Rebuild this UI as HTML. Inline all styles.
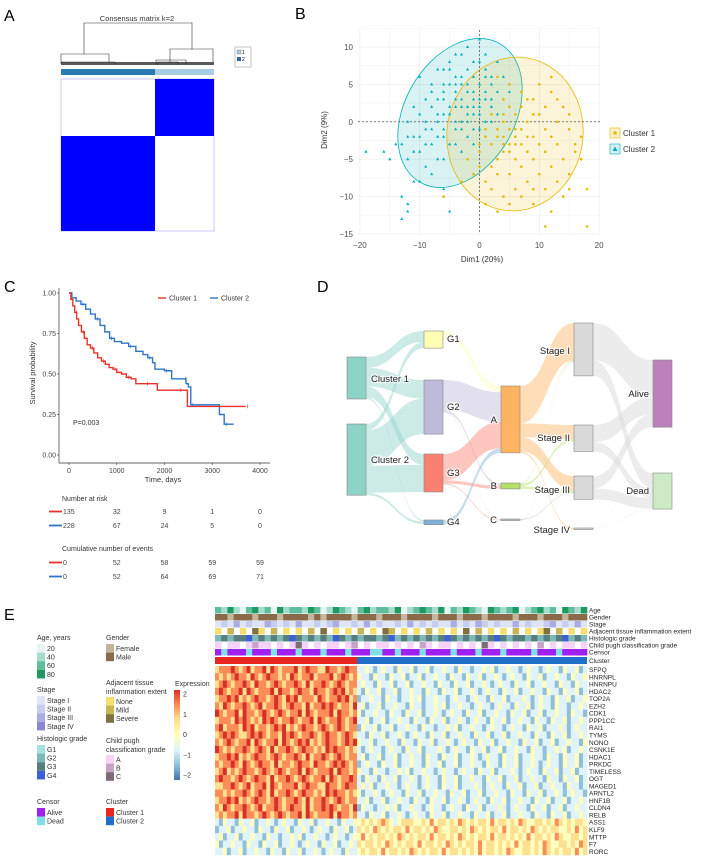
<!DOCTYPE html>
<html><head><meta charset="utf-8"><style>
html,body{margin:0;padding:0;background:#fff;}
svg{display:block;font-family:"Liberation Sans",sans-serif;}
.lbl{font-size:16px;}
</style></head><body>
<svg id="fig" width="713" height="858" viewBox="0 0 713 858" xmlns="http://www.w3.org/2000/svg">
<!-- Panel A -->
<g>
<text x="4" y="21" class="lbl">A</text>
<text x="137" y="21" font-size="7.5" text-anchor="middle" fill="#333">Consensus matrix k=2</text>
<g stroke="#333" stroke-width="0.6" fill="none">
<path d="M84,54 V23 H192 V49"/>
<path d="M61,62 V54 H109 V62"/>
<path d="M170,62 V49 H213 V62"/>
<path d="M61,64 V62 H115 V64 M156,64 V60 H186 V64 M158,65 V62 H178 V65"/>
</g>
<rect x="61" y="62" width="153" height="3" fill="#222" opacity="0.75"/>
<rect x="61" y="69" width="94" height="6" fill="#2b7bb3"/>
<rect x="155" y="69" width="59" height="6" fill="#a6cde2"/>
<rect x="61" y="79" width="153" height="152" fill="#fff" stroke="#c8c8ff" stroke-width="1"/>
<rect x="155" y="79" width="59" height="57" fill="#0000ff"/>
<rect x="61" y="136" width="94" height="95" fill="#0000ff"/>
<g>
<rect x="235" y="47" width="16" height="20" fill="#fff" stroke="#888" stroke-width="0.5"/>
<rect x="237" y="50" width="4" height="4" fill="#a6cde2" stroke="#555" stroke-width="0.3"/>
<text x="242" y="54" font-size="5">1</text>
<rect x="237" y="57" width="4" height="4" fill="#2b6aa0"/>
<text x="242" y="61" font-size="5">2</text>
</g>
</g>
<!-- Panel B -->
<g id="pb">
<text x="295" y="19" class="lbl">B</text>
</g>
<!-- Panel C -->
<g id="pc">
<text x="4" y="292" class="lbl">C</text>
</g>
<!-- Panel D -->
<g id="pd">
<text x="317" y="292" class="lbl">D</text>
</g>
<!-- Panel E -->
<g id="pe">
<text x="4" y="620" class="lbl">E</text>
</g>
</svg>
<script>
const NS="http://www.w3.org/2000/svg";
function mk(p,tag,attrs,txt){const e=document.createElementNS(NS,tag);for(const k in attrs)e.setAttribute(k,attrs[k]);if(txt!==undefined)e.textContent=txt;p.appendChild(e);return e;}

// ===== Panel B data =====
const bXTicks=[-20,-10,0,10,20];
const bYTicks=[10,5,0,-5,-10,-15];
const cluster2Pts=[[-10,6],[-7,7],[-5,8],[-3,9],[-2,10],[0,8],[1,7],[3,8],[-1,6],[-4,6],[-6,5],[-8,4],[-9,3],[-11,2],[-12,0],[-10,1],[-8,2],[-6,3],[-4,4],[-2,5],[0,5],[2,5],[3,4],[1,3],[-1,3],[-3,2],[-5,1],[-7,0],[-9,-1],[-11,-2],[-13,-3],[-12,-5],[-10,-4],[-8,-3],[-6,-2],[-4,-1],[-2,0],[0,1],[2,2],[4,6],[5,4],[-1,1],[-3,-1],[-5,-3],[-7,-5],[-9,-6],[-11,-8],[-10,-8],[-8,-7],[-6,-5],[-4,-3],[-2,-2],[0,-1],[1,0],[-2,2],[-4,2],[-6,1],[-8,-1],[-10,-2],[-7,3],[-5,5],[-3,6],[-1,8],[1,9],[2,6],[-2,4],[-4,0],[-6,-1],[-9,0],[-12,-2],[-14,-3],[-15,-5],[-19,-4],[-16,-4],[-12,-11],[-13,-10],[-12,-12],[-13,-13],[-6,-9],[-5,-12],[-3,-4],[-1,-3],[-3,3],[-5,2],[0,3],[2,0],[3,1],[-7,-2],[-9,-3],[-11,-4],[-8,5],[-6,7],[-4,9],[0,11],[-1,4],[1,4],[-2,7],[-4,3],[-3,0],[-1,-1],[-5,7],[-3,5],[-1,2],[1,6],[-6,4],[-2,1],[0,2],[-4,5],[2,3],[-7,1]];
const cluster1Pts=[[5,5],[7,4],[9,3],[12,4],[14,2],[10,1],[8,0],[6,-1],[4,-2],[2,-3],[0,-4],[-2,-5],[0,-6],[3,-5],[5,-4],[7,-3],[9,-2],[11,-1],[13,0],[15,-1],[16,-3],[14,-5],[12,-6],[10,-7],[8,-8],[6,-9],[4,-10],[2,-9],[1,-11],[5,-7],[7,-6],[9,-5],[11,-4],[13,-3],[15,-7],[17,-5],[18,-9],[14,-10],[12,-12],[16,-4],[6,-2],[4,0],[2,1],[5,2],[7,2],[9,1],[11,2],[13,3],[15,1],[8,-4],[6,-5],[3,-7],[1,-8],[-1,-7],[-3,-8],[2,-6],[4,-4],[6,-3],[5,-1],[3,-2],[1,-2],[7,-1],[10,-3],[12,-2],[11,-9],[9,-9],[7,-10],[5,-11],[3,-12],[11,-14],[18,-14],[-6,-10],[8,3],[6,1],[4,3],[10,5],[12,6],[3,6],[1,-1],[0,-3],[9,-11],[13,-8],[15,-9],[17,-2],[4,-3],[6,-2],[5,-3],[3,-1],[8,-2],[4,1]];
(function(){
 const g=document.getElementById('pb');
 const bx=v=>479.5+v*5.98, by=v=>121.8-v*7.48;
 mk(g,'rect',{x:358,y:30,width:242,height:203,fill:'#fff'});
 for(let v=-20;v<=20;v+=5){const l=mk(g,'line',{x1:bx(v),x2:bx(v),y1:30,y2:233,stroke:'#ebebeb','stroke-width':v%10===0?0.7:0.4});}
 for(let v=-15;v<=12.5;v+=2.5){const l=mk(g,'line',{x1:358,x2:600,y1:by(v),y2:by(v),stroke:'#ebebeb','stroke-width':v%5===0?0.7:0.4});}
 bXTicks.forEach(v=>{const t=mk(g,'text',{x:bx(v),y:248,'font-size':8,'text-anchor':'middle',fill:'#4d4d4d'},String(v).replace('-','\u2212'));});
 bYTicks.forEach(v=>{const t=mk(g,'text',{x:353,y:by(v)+3,'font-size':8,'text-anchor':'end',fill:'#4d4d4d'},String(v).replace('-','\u2212'));});
 let t=mk(g,'text',{x:482,y:262,'font-size':8,'text-anchor':'middle',fill:'#333'},'Dim1 (20%)');
 t=mk(g,'text',{x:0,y:0,'font-size':8,'text-anchor':'middle',fill:'#333',transform:'translate(327,130) rotate(-90)'},'Dim2 (9%)');
 let e=mk(g,'ellipse',{cx:460,cy:113,rx:55,ry:80,transform:'rotate(30 460 113)',fill:'#00AFBB','fill-opacity':0.15,stroke:'#00AFBB','stroke-width':0.8});
 e=mk(g,'ellipse',{cx:515,cy:134,rx:68,ry:77,transform:'rotate(8 515 134)',fill:'#E7B800','fill-opacity':0.15,stroke:'#E7B800','stroke-width':0.8});
 mk(g,'line',{x1:bx(0),x2:bx(0),y1:30,y2:233,stroke:'#333','stroke-dasharray':'2,2','stroke-width':0.6});
 mk(g,'line',{x1:358,x2:600,y1:by(0),y2:by(0),stroke:'#333','stroke-dasharray':'2,2','stroke-width':0.6});
 cluster1Pts.forEach(p=>{const c=mk(g,'circle',{cx:bx(p[0]),cy:by(p[1]),r:1.3,fill:'#E7B800'});});
 cluster2Pts.forEach(p=>{const x=bx(p[0]),y=by(p[1]);const c=mk(g,'path',{d:`M${x},${y-1.8}L${x+1.6},${y+1}L${x-1.6},${y+1}Z`,fill:'#00AFBB'});});
 // legend
 let r=mk(g,'rect',{x:610,y:128,width:10,height:10,fill:'#fbf1cc',stroke:'#E7B800','stroke-width':0.6});
 mk(g,'circle',{cx:615,cy:133,r:1.8,fill:'#E7B800'});
 t=mk(g,'text',{x:623,y:136,'font-size':8,fill:'#333'},'Cluster 1');
 r=mk(g,'rect',{x:610,y:144,width:10,height:10,fill:'#d5f1f3',stroke:'#00AFBB','stroke-width':0.6});
 mk(g,'path',{d:'M615,146.5L617.5,151L612.5,151Z',fill:'#00AFBB'});
 t=mk(g,'text',{x:623,y:152,'font-size':8,fill:'#333'},'Cluster 2');
})();

// ===== Panel C data =====
const kmYTicks=[0,0.25,0.5,0.75,1.0];
const kmXTicks=[0,1000,2000,3000,4000];
const km1Time=[0,40,80,120,160,200,260,320,380,450,520,600,680,760,840,920,1000,1100,1200,1300,1400,1600,1800,1850,2300,2450,2480,3700];
const km1Surv=[1.0,0.96,0.92,0.88,0.84,0.8,0.76,0.72,0.68,0.66,0.63,0.6,0.58,0.56,0.54,0.53,0.51,0.5,0.48,0.47,0.44,0.44,0.44,0.40,0.40,0.40,0.30,0.30];
const km2Time=[0,60,150,250,350,450,550,650,750,850,950,1100,1250,1400,1550,1650,1750,1800,2000,2100,2150,2400,2450,2500,2550,3100,3150,3250,3450];
const km2Surv=[1.0,0.97,0.95,0.93,0.9,0.87,0.84,0.8,0.76,0.72,0.7,0.69,0.67,0.64,0.62,0.6,0.57,0.53,0.52,0.52,0.47,0.47,0.44,0.42,0.31,0.31,0.25,0.19,0.19];
const riskTimes=[0,1000,2000,3000,4000];
const risk1=[135,32,9,1,0];
const risk2=[228,67,24,5,0];
const events1=[0,52,58,59,59];
const events2=[0,52,64,69,71];
(function(){
 const g=document.getElementById('pc');
 const cx=t=>69+t*(191/4000), cy=s=>455-s*162;
 mk(g,'line',{x1:59,x2:59,y1:288,y2:463,stroke:'#333','stroke-width':0.7});
 mk(g,'line',{x1:59,x2:270,y1:463,y2:463,stroke:'#333','stroke-width':0.7});
 kmYTicks.forEach(v=>{mk(g,'line',{x1:57,x2:59,y1:cy(v),y2:cy(v),stroke:'#333','stroke-width':0.6});const t=mk(g,'text',{x:56,y:cy(v)+2.5,'font-size':7,'text-anchor':'end',fill:'#444'},v.toFixed(2));});
 kmXTicks.forEach(v=>{mk(g,'line',{x1:cx(v),x2:cx(v),y1:463,y2:465,stroke:'#333','stroke-width':0.6});const t=mk(g,'text',{x:cx(v),y:473,'font-size':7,'text-anchor':'middle',fill:'#444'},v);});
 let t=mk(g,'text',{x:163,y:482,'font-size':7.5,'text-anchor':'middle',fill:'#333'},'Time, days');
 t=mk(g,'text',{x:0,y:0,'font-size':7.5,'text-anchor':'middle',fill:'#333',transform:'translate(35,373) rotate(-90)'},'Survival probability');
 t=mk(g,'text',{x:73,y:425,'font-size':7,fill:'#333'},'P=0.003');
 function step(ts,ss){let d=`M${cx(ts[0])},${cy(ss[0])}`;for(let i=1;i<ts.length;i++){d+=`H${cx(ts[i])}V${cy(ss[i])}`;}return d;}
 let p=mk(g,'path',{d:step(km2Time,km2Surv),fill:'none',stroke:'#2e75c8','stroke-width':1.4});
 p=mk(g,'path',{d:step(km1Time,km1Surv),fill:'none',stroke:'#e8312a','stroke-width':1.4});
 // censor ticks
 [[km1Time,km1Surv,'#e8312a'],[km2Time,km2Surv,'#2e75c8']].forEach(([ts,ss,c])=>{for(let i=3;i<ts.length;i+=3){const x=cx(ts[i])+2,y=cy(ss[i]);mk(g,'line',{x1:x,x2:x,y1:y-1.8,y2:y+1.8,stroke:c,'stroke-width':0.7});}});
 // legend
 mk(g,'line',{x1:158,x2:166,y1:298,y2:298,stroke:'#e8312a','stroke-width':1.4});
 t=mk(g,'text',{x:169,y:300.5,'font-size':7,fill:'#333'},'Cluster 1');
 mk(g,'line',{x1:210,x2:218,y1:298,y2:298,stroke:'#2e75c8','stroke-width':1.4});
 t=mk(g,'text',{x:221,y:300.5,'font-size':7,fill:'#333'},'Cluster 2');
 // risk table
 t=mk(g,'text',{x:62,y:501,'font-size':7,fill:'#333'},'Number at risk');
 t=mk(g,'text',{x:62,y:551,'font-size':7,fill:'#333'},'Cumulative number of events');
 const rows=[[risk1,514,'#e8312a'],[risk2,528,'#2e75c8'],[events1,565,'#e8312a'],[events2,579,'#2e75c8']];
 rows.forEach(([arr,y,c])=>{mk(g,'line',{x1:49,x2:62,y1:y-2.5,y2:y-2.5,stroke:c,'stroke-width':1.8});arr.forEach((v,i)=>{const x=i===0?63:cx(riskTimes[i]);const tt=mk(g,'text',{x:x,y:y,'font-size':7,'text-anchor':i===0?'start':'middle',fill:'#444'},v);});});
})();

// ===== Panel D (sankey) =====
const sankeyNodes=['Cluster 1','Cluster 2','G1','G2','G3','G4','A','B','C','Stage I','Stage II','Stage III','Stage IV','Alive','Dead'];
const nodeColors=['#8dd3c7','#8dd3c7','#ffffb3','#bebada','#fb8072','#80b1d3','#fdb462','#b3de69','#bbbbbb','#d9d9d9','#d9d9d9','#d9d9d9','#d9d9d9','#bc80bd','#ccebc5'];
const linkSource=[0,0,0,0,1,1,1,1, 2,2,3,3,3,4,4,4,5, 6,6,6,6,7,7,7,8,8, 9,9,10,10,11,11,12,12];
const linkTarget=[2,3,4,5,2,3,4,5, 6,7,6,7,8,6,7,8,6, 9,10,11,12,9,10,11,11,9, 13,14,13,14,13,14,13,14];
const linkValue=[35,60,35,5,20,114,87,8, 20,1,95,8,2,85,10,3,15, 120,45,45,5,3,8,8,3,2, 120,50,55,30,40,35,1,1];
(function(){
 const g=document.getElementById('pd');
 const k=0.311;
 const nx=[347,347,424,424,424,424,501,501,501,574,574,574,574,653,653];
 const ny=[357,424,331,380,454,520,386,483,519,323,425,476,528,360,473];
 const nw=19;
 const outOff=nx.map(()=>0), inOff=nx.map(()=>0);
 const tot=sankeyNodes.map((_,i)=>{let a=0,b=0;linkValue.forEach((v,j)=>{if(linkSource[j]===i)a+=v;if(linkTarget[j]===i)b+=v;});return Math.max(a,b);});
 const lg=mk(g,'g',{});
 linkValue.forEach((v,j)=>{
  const s=linkSource[j],t=linkTarget[j],h=v*k;
  const x0=nx[s]+nw,x1=nx[t];const y0=ny[s]+outOff[s],y1=ny[t]+inOff[t];
  outOff[s]+=h;inOff[t]+=h;
  const xm=(x0+x1)/2;
  const col=s>=9?'#d9d9d9':nodeColors[s];
  const p=mk(lg,'path',{d:`M${x0},${y0}C${xm},${y0} ${xm},${y1} ${x1},${y1}V${y1+h}C${xm},${y1+h} ${xm},${y0+h} ${x0},${y0+h}Z`,fill:col,'fill-opacity':s>=9?0.5:0.45});
  
  
 });
 sankeyNodes.forEach((n,i)=>{
  const h=Math.max(tot[i]*k,1.5);
  const r=mk(g,'rect',{x:nx[i],y:ny[i],width:nw,height:h,fill:nodeColors[i],stroke:'#888','stroke-width':0.6});
  
  
 });
 const labels=[['Cluster 1',371,382,'start'],['Cluster 2',371,463,'start'],['G1',447,342,'start'],['G2',447,410,'start'],['G3',447,476,'start'],['G4',447,525,'start'],['A',497,423,'end'],['B',497,489,'end'],['C',497,523,'end'],['Stage I',570,354,'end'],['Stage II',570,441,'end'],['Stage III',570,493,'end'],['Stage IV',570,533,'end'],['Alive',649,397,'end'],['Dead',649,494,'end']];
 labels.forEach(l=>{const t=mk(g,'text',{x:l[1],y:l[2],'font-size':9.5,'text-anchor':l[3],fill:'#222',stroke:'#fff','stroke-width':2.5,'stroke-opacity':0.7,'paint-order':'stroke'},l[0]);});
})();

// ===== Panel E (heatmap) =====
const geneNames=['SFPQ','HNRNPL','HNRNPU','HDAC2','TOP2A','EZH2','CDK1','PPP1CC','RAI1','TYMS','NONO','CSNK1E','HDAC1','PRKDC','TIMELESS','OGT','MAGED1','ARNTL2','HNF1B','CLDN4','RELB','ASS1','KLF9','MTTP','F7','RORC'];
const exprC1=["455565456455646545556456554465545655","545456554654565545465455645556456545","456545565465545654556546455654565455","565455646545556465545655465545656454","455656454565545654656455546545565645","546545565456455654565546455656545546","654556465545654565455646545556465545","455546565454656545565455646545565456","564555465645545656454565545654565455","456565445656545546565455654565545654","545654556465455646545656454565545656","654545565456546455654565545465655454","455656454565545654556546455654565455","545565465456554645545655465545656545","456454565545654565455646545556465545","565545654565546455654565455646545565","445565456455646545556456554465545655","554545565456546455654565545465655454","455656454565545654556546455654565455","546545565456455654565546455656545546","454556465545654565455646545556465545","213221322312232123221322312232213223","122312232213221322312232123221322312","231223122322132212232312232212322123","312232213221322312232123221322312232","223122312232213221322312232123221322"];
const exprC2=["223212322132231223122322132212232312232212322123221322312","322132213223122312232213221322312232123221322312232213223","232213223122312232213221322312232123221322312232213221322","213223122312232213221322312232123221322312232213221322312","122322132212232312232212322123221322312223212322132231223","231223122322132212232312232212322123221322312322132212232","312232213221322312232123221322312232213223122312232213221","223122312232213221322312232123221322312232213221322312232","132231223122322132212232312232212322123221322312223212322","221322312232123221322312232213223122312232213221322312232","322312232213221322312232123221322312232213223122312232213","212322123221322312223212322132231223122322132212232312232","231223122312232213221322312232123221322312232213221322312","123221322312232213223122312232213221322312232123221322312","322132212232312232212322123221322312223212322132231223122","213221322312232123221322312232213223122312232213221322312","232312232212322123221322312223212322132231223122322132212","312232123221322312232213223122312232213221322312232123221","223122312232213221322312232123221322312232213223122312232","132212232312232212322123221322312223212322132231223122322","221322312232123221322312232213223122312232213221322312232","343434543234443343534434354343443534434354334434354343443","434354343443534434354334434354343443534434354343443343534","353434434354343443534434354343443534434343534434354334434","434434354343443534434354343443534434343534434354334434354","343443534434354343443534434343534434354334434354343443534"];
const annoNames=['Age','Gender','Stage','Adjacent tissue inflammation extent','Histologic grade','Child pugh classification grade','Censor'];
const annoData=["213102312031221320132102312213012321302132103212301231203213","110111011101111010111101110111011110111011101111011101110111","010201002101020010120010201001020101002010210100201001201020","0n1n0n20n1n0n0n1n2n0n0n1n0n21n0n0n1n0n0n2n1n0n0n1n0n02n1n0n0","121223121212321212132121221231212121232121212321221212123121","0n00n0100n0n020n0n00n01n0n00n0n0n10n00n0n0n20n0n0n0n1n0n00n0","010001000100010001000100011001000100001000100010000100010000"];
const annoColors=[["#e6f5f1","#a6dccc","#5fbf9c","#1e9a60"],["#c4b59c","#8a6a4a"],["#dde5f7","#c5cdf1","#a9ade4","#8b87d6"],["#f4df6c","#c8b553","#7f7142"],["#a2e2e2","#7eb8b8","#567f80","#3b5fd6"],["#f6d3f6","#c9a2c9","#7f6a78"],["#a020f0","#80e0e8"]];
const exprColors=["#4575b4","#91bfdb","#e0f3f8","#ffffbf","#fee090","#fc8d59","#d73027"];
const exprTicks=[2,1,0,-1,-2];
(function(){
 const g=document.getElementById('pe');
 const X0=215,XS=357,X1=587;
 const annoY=[607,614,621,628,635,642,649];
 annoData.forEach((s,r)=>{const w=(X1-X0)/s.length;for(let i=0;i<s.length;i++){const c=s[i];if(c==='n')continue;const rc=mk(g,'rect',{x:X0+i*w,y:annoY[r],width:w+0.3,height:6.5,fill:annoColors[r][+c]});}
  const t=mk(g,'text',{x:589,y:annoY[r]+5.5,'font-size':6.5,fill:'#222'},annoNames[r]);});
 let r=mk(g,'rect',{x:X0,y:657,width:XS-X0,height:7,fill:'#e8251f'});
 r=mk(g,'rect',{x:XS,y:657,width:X1-XS,height:7,fill:'#1f6fc8'});
 let t=mk(g,'text',{x:589,y:663,'font-size':6.5,fill:'#222'},'Cluster');
 const rh=(855-666)/geneNames.length;
 geneNames.forEach((gn,ri)=>{const y=666+ri*rh;
  [[exprC1[ri],X0,XS],[exprC2[ri],XS,X1]].forEach(([s,a,b])=>{const w=(b-a)/s.length;for(let i=0;i<s.length;i++){const rc=mk(g,'rect',{x:a+i*w,y:y,width:w+0.3,height:rh+0.2,fill:exprColors[+s[i]]});}});
  const tt=mk(g,'text',{x:589,y:y+rh-1.2,'font-size':6.5,fill:'#222'},gn);});
 // legends
 function legend(title,x,y,items,cols,ty){const tl=Array.isArray(title)?title:[title];tl.forEach((s,i)=>{const t=mk(g,'text',{x:x,y:y+i*9,'font-size':7,fill:'#333'},s);});
  let yy=(ty!==undefined?ty:y+4);items.forEach((it,i)=>{const rc=mk(g,'rect',{x:x,y:yy+i*8.6,width:8,height:8.6,fill:cols[i]});const t=mk(g,'text',{x:x+10,y:yy+i*8.6+7,'font-size':7,fill:'#333'},it);});}
 legend('Age, years',37,640,['20','40','60','80'],annoColors[0]);
 legend('Stage',37,692,['Stage I','Stage II','Stage III','Stage IV'],annoColors[2]);
 legend('Histologic grade',37,741,['G1','G2','G3','G4'],annoColors[4]);
 legend('Censor',37,804,['Alive','Dead'],annoColors[6]);
 legend('Gender',106,640,['Female','Male'],annoColors[1]);
 legend(['Adjacent tissue','inflammation extent'],106,685,['None','Mild','Severe'],annoColors[3],697);
 legend(['Child pugh','classification grade'],106,743,['A','B','C'],annoColors[5],755);
 legend('Cluster',106,804,['Cluster 1','Cluster 2'],['#e8251f','#1f6fc8']);
 t=mk(g,'text',{x:175,y:686,'font-size':7,fill:'#333'},'Expression');
 const defs=mk(g,'defs',{});const lgd=mk(defs,'linearGradient',{id:'eg',x1:0,y1:0,x2:0,y2:1});
 ["#d73027","#fc8d59","#fee090","#ffffbf","#e0f3f8","#91bfdb","#4575b4"].forEach((c,i)=>mk(lgd,'stop',{offset:(i/6),'stop-color':c}));
 r=mk(g,'rect',{x:174,y:690,width:6,height:90,fill:'url(#eg)'});
 exprTicks.forEach((v,i)=>{const y=694+i*20.3;const tt=mk(g,'text',{x:183,y:y+2.5,'font-size':7,fill:'#333'},String(v).replace('-','\u2212'));});
})();
</script>
</body></html>
